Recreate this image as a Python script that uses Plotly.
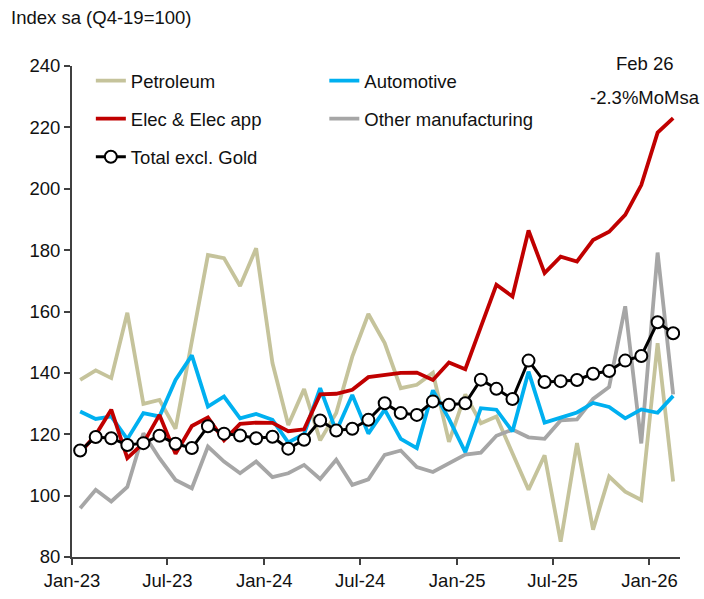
import pandas as pd
import plotly.graph_objects as go

months = pd.date_range("2023-01-01", periods=38, freq="MS")

petroleum = [137.7, 140.8, 138.3, 159.6, 129.9, 131.2, 121.8, 150.0, 178.4, 177.4,
             168.3, 180.6, 143.2, 123.0, 134.7, 118.0, 126.9, 145.3, 159.2, 149.7,
             135.0, 136.1, 140.0, 117.5, 133.0, 123.6, 125.8, 113.8, 101.9, 113.1,
             85.0, 117.1, 88.9, 106.2, 101.3, 98.6, 149.7, 104.6]
automotive = [127.4, 125.0, 125.8, 118.4, 126.9, 125.8, 137.7, 145.7, 129.0, 132.3,
              125.2, 126.6, 124.7, 117.3, 120.1, 135.0, 121.0, 132.8, 120.2, 128.0,
              118.5, 115.5, 134.3, 125.0, 114.2, 128.5, 128.0, 120.9, 140.4, 123.8,
              125.4, 127.1, 130.2, 128.9, 125.2, 128.1, 127.0, 132.5]
elec = [114.0, 119.8, 128.0, 112.2, 117.1, 126.3, 113.6, 122.7, 125.5, 118.0,
        123.4, 123.8, 123.7, 121.0, 121.6, 133.0, 133.2, 134.5, 138.6, 139.3,
        140.0, 140.1, 137.7, 143.4, 141.2, 155.0, 168.7, 164.9, 186.4, 172.5,
        177.9, 176.3, 183.3, 186.0, 191.5, 201.2, 218.3, 223.0]
other = [95.9, 101.9, 98.1, 102.8, 120.3, 112.2, 105.1, 102.4, 116.0, 111.1,
         107.3, 111.1, 106.0, 107.3, 110.0, 105.4, 111.7, 103.5, 105.3, 113.3,
         114.7, 109.3, 107.7, 110.7, 113.4, 114.0, 119.5, 121.5, 119.0, 118.5,
         124.5, 124.8, 131.5, 135.4, 161.7, 117.0, 179.2, 133.0]
total = [114.7, 119.1, 118.7, 116.5, 117.1, 119.5, 116.9, 115.5, 122.6, 120.2,
         119.6, 118.7, 119.2, 115.3, 118.2, 124.5, 121.2, 121.8, 124.7, 130.1,
         126.9, 126.3, 130.7, 129.6, 130.1, 137.8, 134.8, 131.5, 144.0, 137.0,
         137.3, 137.7, 139.7, 140.6, 144.0, 145.5, 156.5, 152.9]

FONT = "Liberation Sans, Arial, sans-serif"
FS = 18.5

fig = go.Figure()

def add(name, y, color, width, legend, rank, marker=None):
    kw = dict(x=months, y=y, name=name, mode="lines",
              line=dict(color=color, width=width),
              xperiod="M1", xperiodalignment="middle",
              legend=legend, legendgroup=name, legendrank=rank)
    if marker:
        kw["mode"] = "lines+markers"
        kw["marker"] = marker
    fig.add_trace(go.Scatter(**kw))

add("Petroleum", petroleum, "#C5C39B", 3.8, "legend", 1)
add("Other manufacturing", other, "#A6A6A6", 3.8, "legend2", 2)
add("Automotive", automotive, "#00B0F0", 3.8, "legend2", 1)
add("Elec & Elec app", elec, "#C00000", 3.8, "legend", 2)
add("Total excl. Gold", total, "#000000", 3, "legend", 3,
    marker=dict(symbol="circle", size=12, color="white",
                line=dict(color="black", width=2)))

legend_common = dict(font=dict(family=FONT, size=FS, color="#111111"),
                     bgcolor="rgba(0,0,0,0)", tracegroupgap=11,
                     itemwidth=30, yanchor="top", xanchor="left")

fig.update_layout(
    width=704, height=599,
    margin=dict(l=72, r=24, t=66, b=42, autoexpand=False),
    paper_bgcolor="white", plot_bgcolor="white",
    font=dict(family=FONT, size=FS, color="#111111"),
    showlegend=True,
    hovermode=False,
    legend=dict(x=0.031, y=1.008, **legend_common),
    legend2=dict(x=0.415, y=1.008, **legend_common),
    xaxis=dict(type="date", range=["2023-01-01", "2026-02-28"],
               tick0="2023-01-01", dtick="M6", tickformat="%b-%y",
               showgrid=False, zeroline=False, automargin=False,
               showline=True, linecolor="#404040", linewidth=2,
               ticks="outside", ticklen=6, tickwidth=2, tickcolor="#404040",
               tickfont=dict(family=FONT, size=FS)),
    yaxis=dict(range=[80, 240], dtick=20, tick0=80,
               showgrid=False, zeroline=False, automargin=False,
               showline=True, linecolor="#404040", linewidth=2,
               ticks="outside", ticklen=6, tickwidth=2, tickcolor="#404040",
               tickfont=dict(family=FONT, size=FS)),
    annotations=[
        dict(text="Index sa (Q4-19=100)", xref="paper", yref="paper",
             x=-0.104, y=1.098, xanchor="left", yanchor="middle",
             showarrow=False, font=dict(family=FONT, size=FS)),
        dict(text="Feb 26", xref="paper", yref="paper",
             x=0.9424, y=1.006, xanchor="center", yanchor="middle",
             showarrow=False, font=dict(family=FONT, size=FS)),
        dict(text="-2.3%MoMsa", xref="paper", yref="paper",
             x=0.9424, y=0.935, xanchor="center", yanchor="middle",
             showarrow=False, font=dict(family=FONT, size=FS)),
    ],
)

fig.write_html(
    "out.html",
    config={"displayModeBar": False, "staticPlot": True},
    post_script="document.body.style.margin='0';document.body.style.padding='0';"
                "document.documentElement.style.overflow='hidden';",
)
